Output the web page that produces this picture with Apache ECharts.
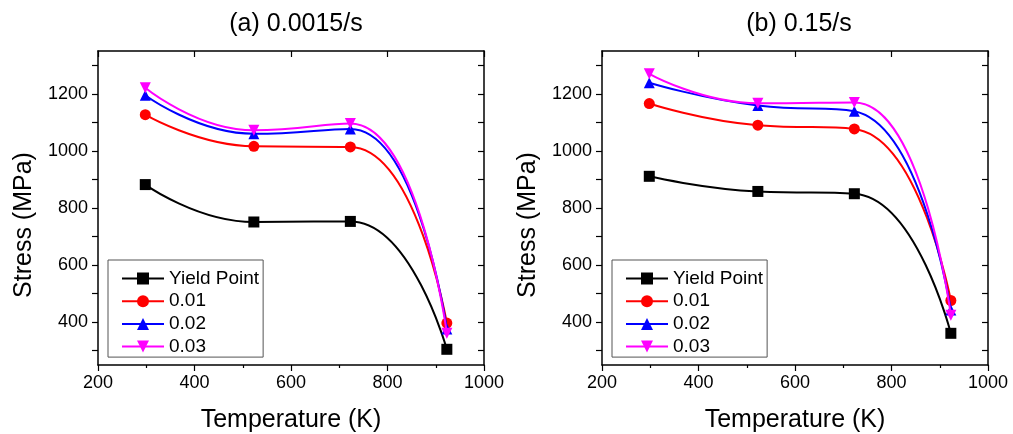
<!DOCTYPE html>
<html><head><meta charset="utf-8">
<script src="https://cdn.jsdelivr.net/npm/echarts@6/dist/echarts.min.js"></script>
<style>html,body{margin:0;padding:0;background:#fff}#c{width:1013px;height:434px}</style>
</head><body><div id="c"></div>
<script>
const temps = [298, 523, 723, 923];
const seriesNames = ['Yield Point', '0.01', '0.02', '0.03'];
const panelTitles = ['(a) 0.0015/s', '(b) 0.15/s'];
const xAxisName = 'Temperature (K)';
const yAxisName = 'Stress (MPa)';
// panel (a) 0.0015/s
const slowYield = [882, 751, 753, 305];
const slow001 = [1127, 1016, 1014, 397];
const slow002 = [1195, 1060, 1077, 376];
const slow003 = [1221, 1072, 1096, 361];
// panel (b) 0.15/s
const fastYield = [911, 858, 850, 361];
const fast001 = [1166, 1090, 1077, 476];
const fast002 = [1239, 1159, 1139, 443];
const fast003 = [1270, 1167, 1170, 424];
const yLabelValues = [400, 600, 800, 1000, 1200];
const yTickValues = [300, 400, 500, 600, 700, 800, 900, 1000, 1100, 1200, 1300];

const FONT = 'Liberation Sans, Arial, sans-serif';
const colors = ['#000000', '#ff0000', '#0000ff', '#ff00ff'];
const symbols = ['rect', 'circle', 'triangle', 'path://M0,0 L2,0 L1,1.8 Z'];
const panels = [
  {left: 98, legendLeft: 108, titleX: 291, data: [slowYield, slow001, slow002, slow003]},
  {left: 602, legendLeft: 612, titleX: 794, data: [fastYield, fast001, fast002, fast003]}
];
const gridTop = 51, gridH = 314, gridW = 386;
const plain = v => String(v);

const chart = echarts.init(document.getElementById('c'), null, {renderer: 'canvas'});
const option = {
  backgroundColor: '#fff',
  animation: false,
  title: [], grid: [], xAxis: [], yAxis: [], legend: [], series: []
};
const axisLine = {show: true, onZero: false, lineStyle: {color: '#000', width: 1.5}};
panels.forEach((p, i) => {
  option.title.push({text: panelTitles[i], left: p.titleX, top: 7, textAlign: 'center',
    textStyle: {fontFamily: FONT, fontSize: 25, fontWeight: 'normal', color: '#000'}});
  option.grid.push({left: p.left, top: gridTop, width: gridW, height: gridH,
    containLabel: false, outerBoundsMode: 'none'});
  // bottom x axis
  option.xAxis.push({type: 'value', gridIndex: i, position: 'bottom', min: 200, max: 1000, interval: 200,
    name: xAxisName, nameLocation: 'middle', nameGap: 43,
    nameTextStyle: {fontFamily: FONT, fontSize: 25, color: '#000'},
    axisLine: axisLine, splitLine: {show: false},
    axisTick: {show: true, inside: false, length: 6, lineStyle: {color: '#000', width: 1.2}},
    minorTick: {show: true, splitNumber: 2, length: 3, lineStyle: {color: '#000', width: 1.2}},
    axisLabel: {fontFamily: FONT, fontSize: 18, color: '#000', margin: 9, formatter: plain}});
  // top x axis (frame)
  option.xAxis.push({type: 'value', gridIndex: i, position: 'top', min: 200, max: 1000, interval: 200,
    axisLine: axisLine, splitLine: {show: false},
    axisTick: {show: true, inside: true, length: 6, lineStyle: {color: '#000', width: 1.2}},
    axisLabel: {show: false}});
  // left y axis
  option.yAxis.push({type: 'value', gridIndex: i, position: 'left', min: 250, max: 1350,
    name: yAxisName, nameLocation: 'middle', nameGap: 61, nameRotate: 90,
    nameTextStyle: {fontFamily: FONT, fontSize: 25, color: '#000', padding: [0, 34, 0, 0]},
    axisLine: axisLine, splitLine: {show: false},
    axisTick: {show: true, inside: false, length: 6, customValues: yTickValues, lineStyle: {color: '#000', width: 1.2}},
    axisLabel: {fontFamily: FONT, fontSize: 18, color: '#000', margin: 10, customValues: yLabelValues, formatter: plain}});
  // right y axis (frame)
  option.yAxis.push({type: 'value', gridIndex: i, position: 'right', min: 250, max: 1350,
    axisLine: axisLine, splitLine: {show: false},
    axisTick: {show: true, inside: true, length: 6, customValues: yTickValues, lineStyle: {color: '#000', width: 1.2}},
    axisLabel: {show: false}});
  option.legend.push({left: p.legendLeft, top: 260, orient: 'vertical', selectedMode: false,
    data: seriesNames, itemWidth: 42, itemHeight: 15, itemGap: 3.7,
    padding: [9, 4, 1, 13], borderColor: '#555', borderWidth: 1, backgroundColor: '#fff',
    textStyle: {fontFamily: FONT, fontSize: 19, color: '#000'}});
  seriesNames.forEach((name, k) => {
    option.series.push({
      name: name, type: 'line', xAxisIndex: i * 2, yAxisIndex: i * 2,
      data: temps.map((t, j) => [t, p.data[k][j]]),
      smooth: 0.5,
      symbol: symbols[k], symbolSize: 11, showSymbol: true,
      lineStyle: {color: colors[k], width: 2},
      itemStyle: {color: colors[k]},
      z: 2 + k
    });
  });
});
chart.setOption(option);
</script></body></html>
